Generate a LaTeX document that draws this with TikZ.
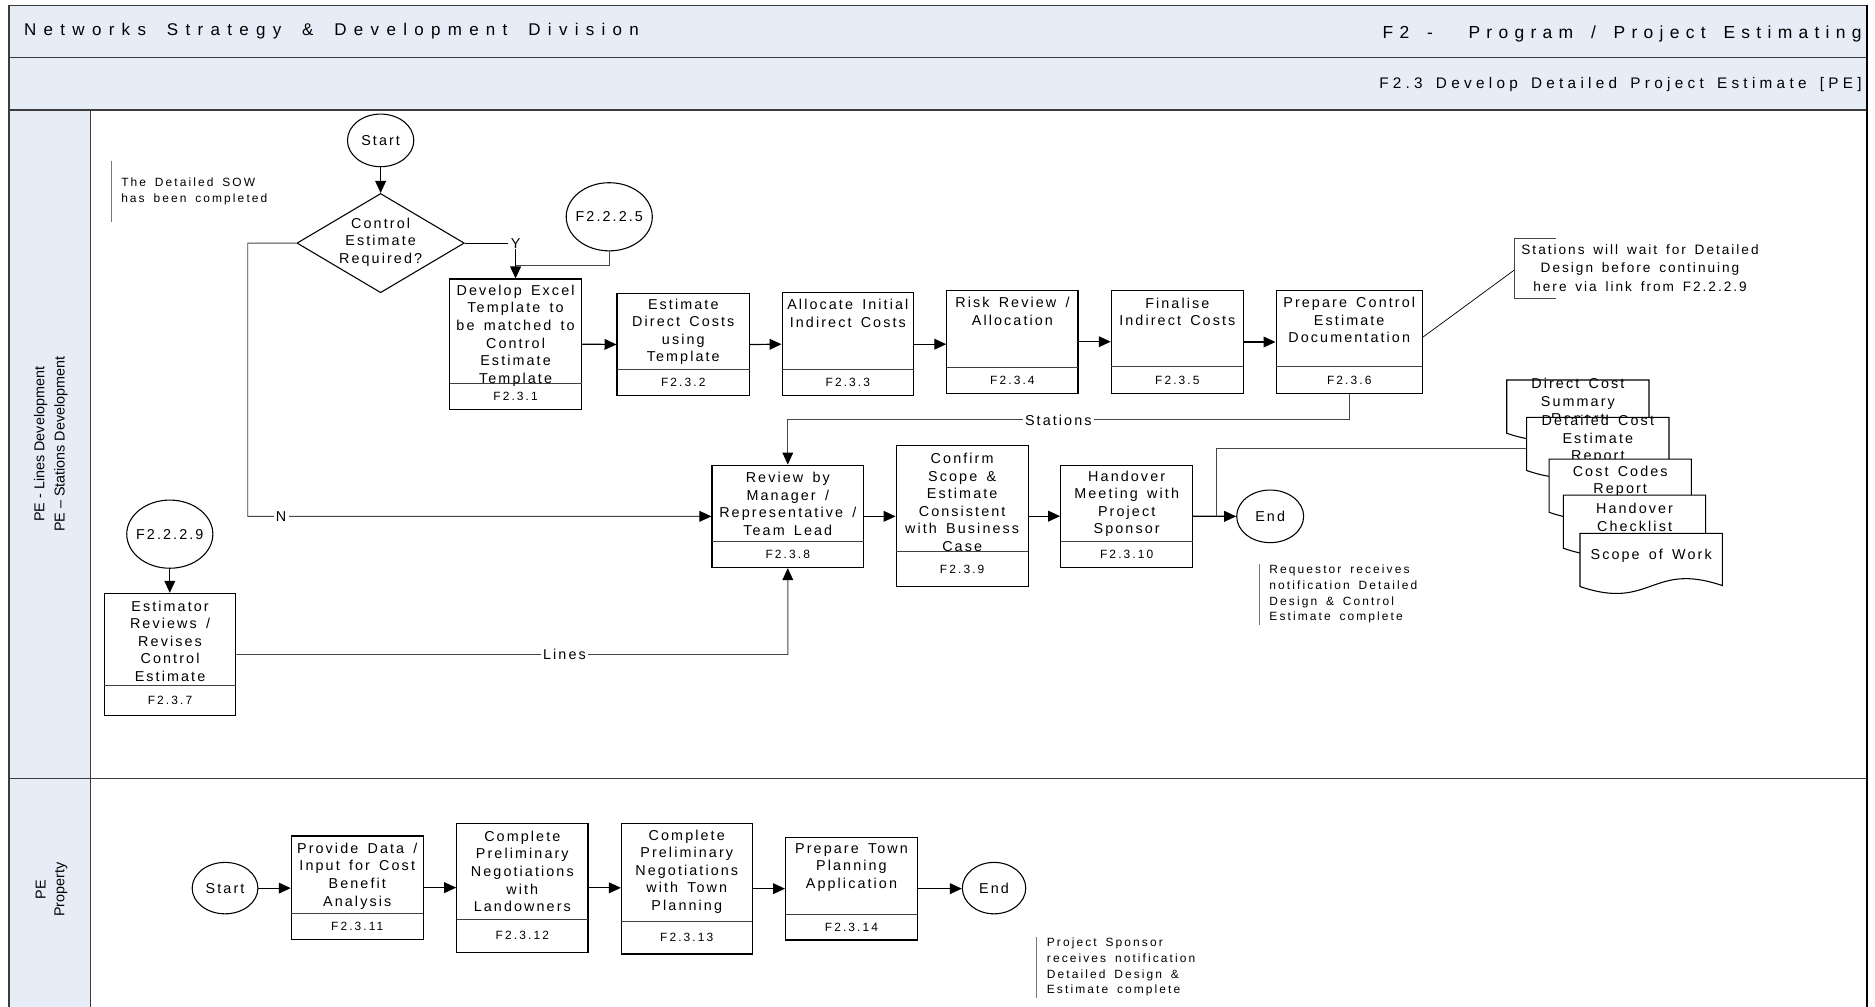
\documentclass[tikz,border=0pt]{standalone}
\usepackage{fontspec}
\setmainfont{Liberation Sans}
\newfontfamily\boxfont{Liberation Sans}[LetterSpace=14.6,WordSpace=1.52,Ligatures=NoCommon]
\newfontfamily\notefont{Liberation Sans}[LetterSpace=17.6,WordSpace=1.63,Ligatures=NoCommon]
\newfontfamily\titlefont{Liberation Sans}[LetterSpace=43,WordSpace=1.74,Ligatures=NoCommon]
\newfontfamily\processfont{Liberation Sans}[LetterSpace=36,WordSpace=1.6,Ligatures=NoCommon]
\newfontfamily\subtitlefont{Liberation Sans}[LetterSpace=28,WordSpace=1.55,Ligatures=NoCommon]
\usetikzlibrary{shapes.geometric,arrows.meta,calc}

\definecolor{hdrfill}{RGB}{230,237,247}
\definecolor{frameline}{RGB}{60,60,60}
\definecolor{connline}{RGB}{70,70,70}
\definecolor{noteline}{RGB}{120,120,120}

\tikzset{
  procbox/.style={rectangle, draw=black, line width=0.9pt, fill=white, inner sep=0pt},
  divline/.style={draw=black!75, line width=0.7pt},
  boxtext/.style={font=\boxfont\fontsize{12}{14.65}\selectfont, align=center, inner sep=0pt},
  codetext/.style={font=\notefont\fontsize{10}{12}\selectfont, inner sep=0pt},
  notetext/.style={font=\notefont\fontsize{10}{13.1}\selectfont, align=left, inner sep=0pt, anchor=west},
  termin/.style={ellipse, draw=black, line width=0.9pt, fill=white, inner sep=0pt},
  arr/.style={draw=black, line width=1pt, -{Triangle[length=10pt,width=9pt]}},
  arrc/.style={draw=connline, line width=0.8pt, -{Triangle[length=10pt,width=9pt,black]}},
  conn/.style={draw=connline, line width=0.8pt},
  lbl/.style={font=\boxfont\fontsize{12}{14}\selectfont, fill=white, inner xsep=2pt, inner ysep=0.5pt},
  lanelabel/.style={font=\fontsize{12}{14}\selectfont, rotate=90, inner sep=0pt},
  docline/.style={draw=black, line width=0.9pt, fill=white},
  noteline/.style={draw=noteline, line width=0.8pt},
}

% process box: name, x0, y0, x1, y1, divider y, text centre y, text, code
\newcommand{\flowbox}[9]{%
  \node[procbox, minimum width={#4-#2}, minimum height={#5-#3}] (#1) at ({(#2+#4)/2},{(#3+#5)/2}) {};
  \draw[divline] (#2,#6) -- (#4,#6);
  \node[boxtext] (#1t) at ({(#2+#4)/2},#7) {#8};
  \node[codetext] (#1c) at ({(#2+#4)/2},{(#6+#5)/2}) {#9};
}

% document symbol with wavy bottom: name, x0, top y, text centre y, text
\newcommand{\paperdoc}[5]{%
  \coordinate (#1) at (#2,#3);
  \filldraw[docline] (#2,#3) -- ({#2+119},#3) -- ({#2+119},{#3+43.7})
    .. controls ({#2+59.5},{#3+44.1-20.8}) and ({#2+59.5},{#3+44.1+20.8}) .. (#2,{#3+44.5}) -- cycle;
  \node[boxtext] (#1t) at ({#2+59.5},#4) {#5};
}

\begin{document}
\begin{tikzpicture}[x=1pt,y=-1pt]
\useasboundingbox (0,0) rectangle (1568,842);
\clip (0,0) rectangle (1568,842);
\fill[white] (0,0) rectangle (1568,842);

% ---- frame, headers and swimlanes
\filldraw[fill=hdrfill, draw=frameline, line width=1pt] (7.5,4.5) rectangle (1561,48);
\filldraw[fill=hdrfill, draw=frameline, line width=1pt] (7.5,48) rectangle (1561,92);
\filldraw[fill=hdrfill, draw=frameline, line width=1pt] (7.5,92) rectangle (76,860);
\draw[frameline, line width=1pt] (7.5,651) -- (1561,651);
\draw[black, line width=1.8pt] (1561,4.5) -- (1561,860);

\node[anchor=base west, font=\titlefont\fontsize{14.2}{16}\selectfont, inner sep=0pt] (title) at (20,29.5) {Networks Strategy \& Development Division};
\node[anchor=base east, font=\processfont\fontsize{14.6}{16}\selectfont, inner sep=0pt] (process) at (1557,32.5) {F2 -\ \ Program / Project Estimating};
\node[anchor=base east, font=\subtitlefont\fontsize{12.8}{15}\selectfont, inner sep=0pt] (subprocess) at (1557,74) {F2.3 Develop Detailed Project Estimate [PE]};

\node[lanelabel] (lane1a) at (34,371.5) {PE - Lines Development};
\node[lanelabel] (lane1b) at (51,371.5) {PE -- Stations Development};
\node[lanelabel] (lane2a) at (34,744) {PE};
\node[lanelabel] (lane2b) at (51,744) {Property};

% ---- lane 1: lines / stations development
\node[termin, minimum width=55.5, minimum height=44] (s1) at (318.3,117.4) {};
\node[boxtext] (s1t) at (s1) {Start};
\node[diamond, draw=black, line width=0.9pt, fill=white, minimum width=140, minimum height=83, inner sep=0pt] (dec) at (318.3,203.3) {};
\node[boxtext, font=\boxfont\fontsize{12}{14.5}\selectfont] (dect) at (318.3,202.5) {Control\\Estimate\\Required?};
\node[termin, minimum width=72, minimum height=57] (c5) at (509.5,181.3) {};
\node[boxtext] (c5t) at (c5) {F2.2.2.5};
\node[termin, minimum width=72, minimum height=57] (c9) at (142,446.7) {};
\node[boxtext] (c9t) at (c9) {F2.2.2.9};
\node[termin, minimum width=56, minimum height=44] (e1) at (1062.2,431.8) {};
\node[boxtext] (e1t) at (e1) {End};

\flowbox{b1}{376}{233.3}{486.3}{342.3}{320.6}{280.6}{Develop Excel\\Template to\\be matched to\\Control\\Estimate\\Template}{F2.3.1}
\flowbox{b2}{516}{245.3}{626.8}{330.9}{308.8}{277.4}{Estimate\\Direct Costs\\using\\Template}{F2.3.2}
\flowbox{b3}{654}{244.8}{764}{330.9}{308.8}{262.2}{Allocate Initial\\Indirect Costs}{F2.3.3}
\flowbox{b4}{791.8}{242.8}{901.5}{328.7}{306.9}{260.2}{Risk Review /\\Allocation}{F2.3.4}
\flowbox{b5}{929.3}{243.1}{1039.8}{328.9}{306.6}{260.7}{Finalise\\Indirect Costs}{F2.3.5}
\flowbox{b6}{1067.1}{243.1}{1189.5}{328.9}{306.6}{267.8}{Prepare Control\\Estimate\\Documentation}{F2.3.6}
\flowbox{b7}{87.2}{496.2}{197.2}{598.5}{572.8}{536.3}{Estimator\\Reviews /\\Revises\\Control\\Estimate}{F2.3.7}
\flowbox{b8}{595.4}{388.9}{722.2}{474.7}{453}{421.2}{Review by\\Manager /\\Representative /\\Team Lead}{F2.3.8}
\flowbox{b9}{749.4}{372.7}{859.8}{490.6}{461.3}{420}{Confirm\\Scope \&\\Estimate\\Consistent\\with Business\\Case}{F2.3.9}
\flowbox{b10}{887}{388.9}{997.4}{474.7}{453}{421.2}{Handover\\Meeting with\\Project\\Sponsor}{F2.3.10}

% connectors in lane 1
\draw[arr] (s1.south) -- (dec.north);
\draw[arr] (dec.east) -| node[lbl] (ylab) {Y} (b1.north);
\coordinate (jy) at (431.15,222);
\draw[conn] (c5.south) |- (jy);
\draw[arr] (b1.east) -- (b2.west);
\draw[arr] (b2.east) -- (b3.west);
\draw[arr] (b3.east) -- (b3.east -| b4.west);
\draw[arr] (b4.east) -- (b4.east -| b5.west);
\draw[arr] (b5.east) -- (b6.west);

\coordinate (nc) at (207.2,431.8);
\draw[arrc] (dec.west) -| (nc) -- node[lbl, pos=0.072] (nlab) {N} (b8.west);

\coordinate (stn) at (885,351.2);
\draw[arrc] (b6.south) |- (stn) -| (b8.north);
\node[lbl] (stnlab) at (stn) {Stations};

\coordinate (lin) at (472,547.35);
\draw[arrc] (b7.east) -- (lin) -| (b8.south);
\node[lbl] (linlab) at (lin) {Lines};

\draw[arr] (c9.south) -- (c9.south |- b7.north);
\draw[arr] (b8.east) -- (b8.east -| b9.west);
\draw[arr] (b9.east) -- (b9.east -| b10.west);
\draw[arr] (b10.east) -- (e1.west);

\coordinate (jb) at (1017.4,431.8);
\coordinate (d2w) at (1276.7,374.9);
\draw[conn] (jb) |- (d2w);

% outputs handed over
\paperdoc{d1}{1260}{317.8}{336.5}{Direct Cost\\Summary\\Report}
\paperdoc{d2}{1276.7}{349}{367.5}{Detailed Cost\\Estimate\\Report}
\paperdoc{d3}{1295.4}{383.9}{402.4}{Cost Codes\\Report}
\paperdoc{d4}{1307.4}{414}{432.8}{Handover\\Checklist}
\paperdoc{d5}{1321.3}{446}{465}{Scope of Work}

% callout on the control estimate documentation
\coordinate (cb) at (1266.4,225.8);
\draw[black, line width=0.6pt] ($(b6.north east)!0.453!(b6.south east)$) -- (cb);
\draw[conn] (1301,199.3) -- (1266.4,199.3) -- (1266.4,249.5) -- (1301,249.5);
\node[boxtext, font=\boxfont\fontsize{11.4}{15.1}\selectfont] (calltext) at (1371.5,224.2) {Stations will wait for Detailed\\Design before continuing\\here via link from F2.2.2.9};

% annotations
\draw[noteline] (92.9,134.6) -- (92.9,185.9);
\node[notetext] (note1) at (101.2,159.9) {The Detailed SOW\\has been completed};
\draw[noteline] (1053.4,471.6) -- (1053.4,522.7);
\node[notetext] (note2) at (1061.4,497) {Requestor receives\\notification Detailed\\Design \& Control\\Estimate complete};

% ---- lane 2: property
\node[termin, minimum width=55, minimum height=43] (s2) at (188.2,742.7) {};
\node[boxtext] (s2t) at (s2) {Start};
\node[termin, minimum width=53, minimum height=43] (e2) at (831.3,742.7) {};
\node[boxtext] (e2t) at (e2) {End};

\flowbox{b11}{243.6}{699.1}{353.9}{785.5}{763.8}{732.6}{Provide Data /\\Input for Cost\\Benefit\\Analysis}{F2.3.11}
\flowbox{b12}{381.9}{688.5}{491.7}{796.4}{768.8}{728.7}{Complete\\Preliminary\\Negotiations\\with\\Landowners}{F2.3.12}
\flowbox{b13}{519.7}{688.5}{628.9}{797.8}{770.2}{728.7}{Complete\\Preliminary\\Negotiations\\with Town\\Planning}{F2.3.13}
\flowbox{b14}{656.9}{700.2}{767.2}{786.1}{764.4}{725.2}{Prepare Town\\Planning\\Application}{F2.3.14}

\draw[arr] (s2.east) -- (s2.east -| b11.west);
\draw[arr] (b11.east) -- (b11.east -| b12.west);
\draw[arr] (b12.east) -- (b12.east -| b13.west);
\draw[arr] (b13.east) -- (b13.east -| b14.west);
\draw[arr] (b14.east) -- (b14.east -| e2.west);

\draw[noteline] (867,783.3) -- (867,834.8);
\node[notetext] (note3) at (875.3,809) {Project Sponsor\\receives notification\\Detailed Design \&\\Estimate complete};
\end{tikzpicture}
\end{document}
